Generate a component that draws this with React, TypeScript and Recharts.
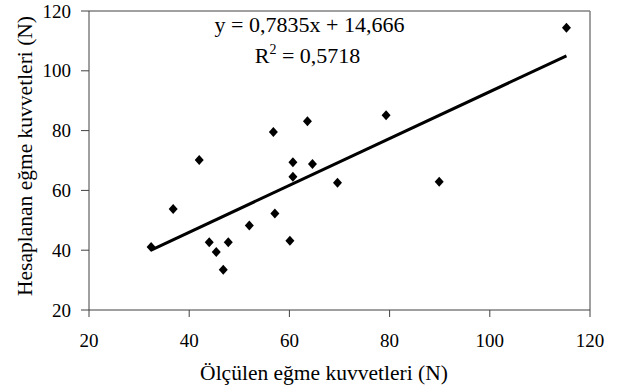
import { ScatterChart, Scatter, XAxis, YAxis, ReferenceLine, Customized } from 'recharts';

const measured = [32.4, 36.8, 42.0, 44.0, 45.4, 46.8, 47.8, 52.0, 57.1, 60.1, 56.8, 63.6, 60.7, 60.7, 64.6, 69.6, 79.3, 89.9, 115.3];
const calculated = [41.1, 53.8, 70.2, 42.7, 39.4, 33.5, 42.7, 48.3, 52.3, 43.2, 79.5, 83.1, 69.4, 64.6, 68.8, 62.6, 85.1, 62.9, 114.4];
const xTicks = [20, 40, 60, 80, 100, 120];
const yTicks = [20, 40, 60, 80, 100, 120];
const slope = 0.7835;
const intercept = 14.666;

const points = measured.map((x, i) => ({ x, y: calculated[i] }));
const xMin = Math.min(...measured);
const xMax = Math.max(...measured);
const trend = [
    { x: xMin, y: slope * xMin + intercept },
    { x: xMax, y: slope * xMax + intercept },
];

const font = '"Liberation Serif", "Times New Roman", serif';

const Diamond = (props: any) => {
    const { cx, cy } = props;
    return <polygon points={`${cx},${cy - 5} ${cx + 4.5},${cy} ${cx},${cy + 5} ${cx - 4.5},${cy}`} fill="#000" />;
};

const XTick = (props: any) => {
    const { x, y, payload } = props;
    return (
        <text x={x} y={y + 13} textAnchor="middle" fontSize={19} fill="#000" style={{ fontFamily: font }}>
            {payload.value}
        </text>
    );
};

const YTick = (props: any) => {
    const { x, y, payload } = props;
    return (
        <text x={x} y={y + 6.5} textAnchor="end" fontSize={19} fill="#000" style={{ fontFamily: font }}>
            {payload.value}
        </text>
    );
};

const Texts = () => (
    <g fill="#000" style={{ fontFamily: font }}>
        <text x={309.5} y={31.5} fontSize={22} textAnchor="middle">y = 0,7835x + 14,666</text>
        <text x={307.5} y={63} fontSize={22} textAnchor="middle">
            R<tspan dy={-9} fontSize={14}>2</tspan><tspan dy={9}> = 0,5718</tspan>
        </text>
        <text x={324} y={380} fontSize={21.5} textAnchor="middle">Ölçülen eğme kuvvetleri (N)</text>
        <text x={32} y={156} fontSize={21.5} textAnchor="middle" transform="rotate(-90, 32, 156)">
            Hesaplanan eğme kuvvetleri (N)
        </text>
    </g>
);

export default function App() {
    return (
        <div style={{ position: 'absolute', left: 0, top: 0, background: '#fff', fontFamily: font }}>
            <ScatterChart width={622} height={391} margin={{ top: 11, right: 32, left: 0, bottom: 0 }}>
                <XAxis
                    type="number"
                    dataKey="x"
                    domain={[20, 120]}
                    ticks={xTicks}
                    height={81}
                    tickSize={7}
                    tickMargin={17}
                    stroke="#404040"
                    tick={<XTick />}
                />
                <YAxis
                    type="number"
                    dataKey="y"
                    domain={[20, 120]}
                    ticks={yTicks}
                    width={89}
                    tickSize={8}
                    tickMargin={10}
                    stroke="#404040"
                    tick={<YTick />}
                />
                <ReferenceLine y={120} stroke="#808080" strokeWidth={1.5} />
                <ReferenceLine x={120} stroke="#808080" strokeWidth={1.5} />
                <Scatter data={points} shape={<Diamond />} isAnimationActive={false} />
                <Scatter
                    data={trend}
                    line={{ stroke: '#000', strokeWidth: 3 }}
                    shape={() => <g />}
                    isAnimationActive={false}
                />
                <Customized component={Texts} />
            </ScatterChart>
        </div>
    );
}
